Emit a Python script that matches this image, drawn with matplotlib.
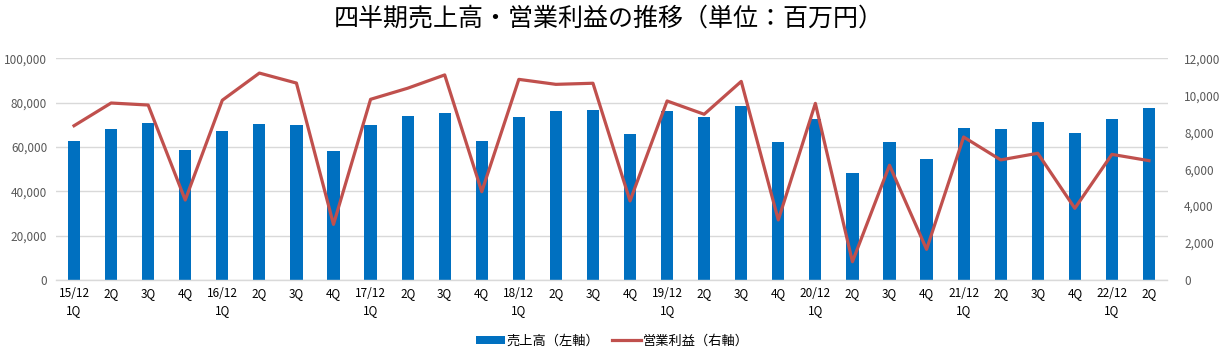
import matplotlib
matplotlib.use("Agg")
import matplotlib.pyplot as plt
import numpy as np

plt.rcParams['font.family'] = ['Noto Sans CJK JP', 'DejaVu Sans']

categories = ["15/12\n1Q", "2Q", "3Q", "4Q",
              "16/12\n1Q", "2Q", "3Q", "4Q",
              "17/12\n1Q", "2Q", "3Q", "4Q",
              "18/12\n1Q", "2Q", "3Q", "4Q",
              "19/12\n1Q", "2Q", "3Q", "4Q",
              "20/12\n1Q", "2Q", "3Q", "4Q",
              "21/12\n1Q", "2Q", "3Q", "4Q",
              "22/12\n1Q", "2Q"]

sales = [62700, 68100, 70800, 58600,
         67200, 70400, 69900, 58200,
         69900, 74000, 75300, 62700,
         73500, 76200, 76700, 65900,
         76200, 73500, 78500, 62300,
         72600, 48300, 62300, 54600,
         68600, 68100, 71300, 66300,
         72600, 77600]

op_income = [8350, 9580, 9470, 4330,
             9730, 11200, 10660, 3010,
             9780, 10380, 11100, 4780,
             10860, 10590, 10650, 4280,
             9690, 8970, 10750, 3250,
             9560, 990, 6210, 1660,
             7740, 6500, 6860, 3880,
             6800, 6460]

left_ticks = [0, 20000, 40000, 60000, 80000, 100000]
right_ticks = [0, 2000, 4000, 6000, 8000, 10000, 12000]

title = "四半期売上高・営業利益の推移（単位：百万円）"
sales_label = "売上高（左軸）"
op_label = "営業利益（右軸）"

bar_color = "#0070C0"
line_color = "#C0504D"
tick_color = "#595959"
grid_color = "#D9D9D9"

fig = plt.figure(figsize=(12.24, 3.58), dpi=100)
ax = fig.add_axes([55.5 / 1224, 1 - 280 / 358, (1167.5 - 55.5) / 1224, (280 - 58.3) / 358])
x = np.arange(len(categories))

bars = ax.bar(x, sales, width=0.33, color=bar_color, label=sales_label, zorder=2)
ax.set_ylim(0, 100000)
ax.set_xlim(-0.5, len(categories) - 0.5)
ax.set_yticks(left_ticks)
ax.set_yticklabels([f"{v:,}" for v in left_ticks])
ax.set_xticks(x)
ax.set_xticklabels(categories, linespacing=1.4)
ax.grid(axis='y', color=grid_color, linewidth=1.0, zorder=0)
ax.set_axisbelow(True)
for s in ['top', 'right', 'left']:
    ax.spines[s].set_visible(False)
ax.spines['bottom'].set_color(grid_color)
ax.spines['bottom'].set_linewidth(1.0)
ax.tick_params(axis='both', length=0, labelsize=8.5, colors=tick_color, pad=6)
ax.tick_params(axis='x', colors='black', pad=5)

ax2 = ax.twinx()
line, = ax2.plot(x, op_income, color=line_color, linewidth=2.3, label=op_label, zorder=3)
ax2.set_ylim(0, 12000)
ax2.set_yticks(right_ticks)
ax2.set_yticklabels([f"{v:,}" for v in right_ticks])
for s in ['top', 'right', 'left', 'bottom']:
    ax2.spines[s].set_visible(False)
ax2.tick_params(axis='y', length=0, labelsize=8.5, colors=tick_color, pad=12)

fig.text(0.497, 1 - 18 / 358, title, ha='center', va='center', fontsize=18)

fig.legend([bars, line], [sales_label, op_label], loc='center',
           bbox_to_anchor=(0.5, 1 - 341 / 358), ncol=2, frameon=False,
           fontsize=9.5, handlelength=2.2, handleheight=0.5, columnspacing=1.0,
           handletextpad=0.1)

fig.savefig("out.png", dpi=100)
